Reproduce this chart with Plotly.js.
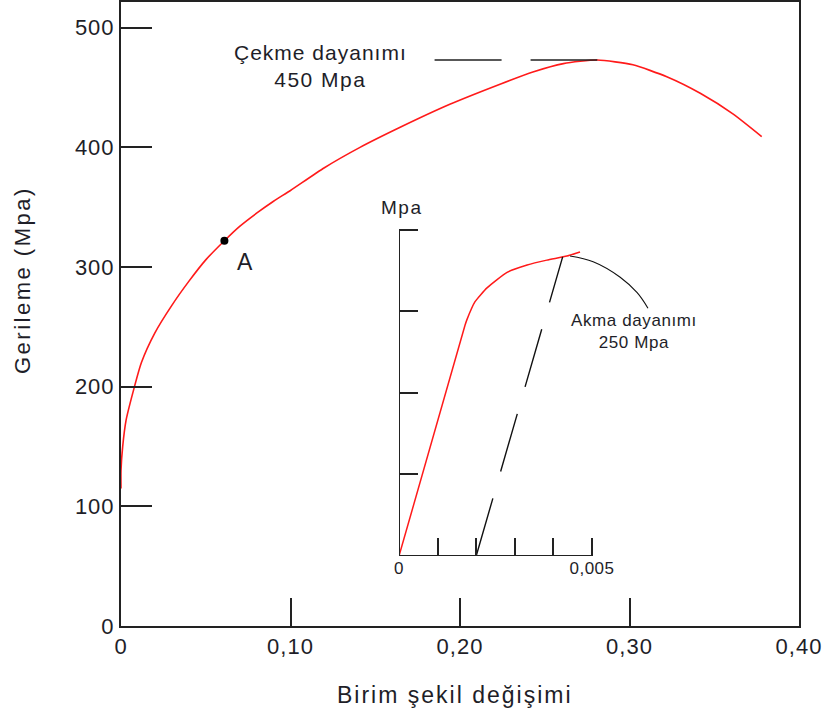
<!DOCTYPE html>
<html>
<head>
<meta charset="utf-8">
<script src="https://cdn.plot.ly/plotly-3.0.1.min.js"></script>
<style>html,body{margin:0;padding:0;background:#fff;}#chart{width:827px;height:724px;}</style>
</head>
<body>
<div id="chart"></div>
<script>
// ---- main curve (Birim şekil değişimi vs Gerileme, Mpa)
const strain = [0, 0, 0.001, 0.003, 0.007, 0.012, 0.02, 0.03, 0.04, 0.05, 0.061, 0.07, 0.08, 0.09, 0.10, 0.12, 0.141, 0.165, 0.194, 0.224, 0.243, 0.261, 0.281, 0.302, 0.322, 0.342, 0.361, 0.378];
const stress = [115, 130, 150, 172, 195, 220, 245, 268, 288, 306, 322, 334, 345, 355, 364, 383, 400, 417, 436, 453, 463, 470, 473, 469, 459, 445, 428, 409];
const pointA = {x: [0.061], y: [322], label: "A"};
const tensileLineX = [0.185, 0.281];
const tensileLineY = [473, 473];
const tensileLabel = ["Çekme dayanımı", "450 Mpa"];
const mainXTicks = [0, 0.1, 0.2, 0.3, 0.4];
const mainXTickText = ["0", "0,10", "0,20", "0,30", "0,40"];
const mainYTicks = [0, 100, 200, 300, 400, 500];
const mainYTickText = ["0", "100", "200", "300", "400", "500"];
const xTitle = "Birim şekil değişimi";
const yTitle = "Gerileme (Mpa)";

// ---- inset (yield region)
const insetStrain = [0, 0.00171, 0.00176, 0.00197, 0.00228, 0.0028, 0.00332, 0.00383, 0.00435, 0.00469];
const insetStress = [0, 283, 290, 312, 329, 348, 357, 363, 368, 373];
const offsetX = [0.002, 0.00424];
const offsetY = [0, 367];
const leaderX = [0.00443, 0.00503, 0.00573, 0.00617, 0.00645];
const leaderY = [368, 361, 342, 323, 304];
const insetXTicks = [0, 0.001, 0.002, 0.003, 0.004, 0.005];
const insetXTickText = ["0", "", "", "", "", "0,005"];
const insetYTicks = [0, 100, 200, 300, 400];
const yieldLabel = ["Akma dayanımı", "250 Mpa"];
const insetUnit = "Mpa";

const FONT = "Liberation Sans, Arial, sans-serif";
const TXT = "#1e1e28";
const AX = "#222";

const ls = (s, sp) => '<span style="letter-spacing:' + sp + 'px">' + s + '</span>';

const traces = [
  {x: strain, y: stress, type: "scatter", mode: "lines", line: {color: "#ff1a1a", width: 1.6, shape: "spline", smoothing: 0.6}, hoverinfo: "skip"},
  {x: tensileLineX, y: tensileLineY, type: "scatter", mode: "lines", line: {color: "#222", width: 1.5, dash: "67px,29px"}, hoverinfo: "skip"},
  {x: pointA.x, y: pointA.y, type: "scatter", mode: "markers", marker: {color: "#000", size: 8}, hoverinfo: "skip"},
  {x: insetStrain, y: insetStress, xaxis: "x2", yaxis: "y2", type: "scatter", mode: "lines", line: {color: "#ff1a1a", width: 1.5, shape: "spline", smoothing: 0.5}, hoverinfo: "skip"},
  {x: offsetX, y: offsetY, xaxis: "x2", yaxis: "y2", type: "scatter", mode: "lines", line: {color: "#111", width: 1.4, dash: "60px,28px"}, hoverinfo: "skip"},
  {x: leaderX, y: leaderY, xaxis: "x2", yaxis: "y2", type: "scatter", mode: "lines", line: {color: "#111", width: 1.1, shape: "spline"}, hoverinfo: "skip"}
];

const layout = {
  width: 827, height: 724,
  margin: {l: 121, r: 28, t: 2, b: 98},
  paper_bgcolor: "#fff", plot_bgcolor: "#fff",
  showlegend: false,
  font: {family: FONT, color: TXT, size: 21},
  xaxis: {
    range: [0, 0.40], domain: [0, 1],
    tickvals: mainXTicks, ticktext: mainXTickText.map(t => ls(t, 1)),
    ticks: "inside", ticklen: 28, tickwidth: 2, tickcolor: AX,
    showline: true, linecolor: AX, linewidth: 2, mirror: true,
    showgrid: false, zeroline: false,
    tickfont: {size: 22, family: FONT, color: TXT}
  },
  yaxis: {
    range: [0, 521.5], domain: [0, 1],
    tickvals: mainYTicks, ticktext: mainYTickText.map(t => ls(t, 1)),
    ticks: "inside", ticklen: 31, tickwidth: 2, tickcolor: AX,
    showline: true, linecolor: AX, linewidth: 2, mirror: true,
    showgrid: false, zeroline: false,
    tickfont: {size: 22, family: FONT, color: TXT}
  },
  xaxis2: {
    anchor: "y2", domain: [0.41003, 0.85398], range: [0, 0.0077979],
    tickvals: insetXTicks, ticktext: insetXTickText.map(t => ls(t, 0.5)),
    ticks: "inside", ticklen: 18, tickwidth: 2, tickcolor: AX,
    showline: false, showgrid: false, zeroline: false,
    tickfont: {size: 17, family: FONT, color: TXT}
  },
  yaxis2: {
    anchor: "x2", domain: [0.11218, 0.6412], range: [0, 405],
    tickvals: insetYTicks, showticklabels: false,
    ticks: "inside", ticklen: 19, tickwidth: 2, tickcolor: AX,
    showline: false, showgrid: false, zeroline: false
  },
  shapes: [
    {type: "line", xref: "x2", yref: "y2", x0: insetXTicks[0], x1: insetXTicks[insetXTicks.length - 1], y0: 0, y1: 0, line: {color: AX, width: 2}},
    {type: "line", xref: "x2", yref: "y2", x0: 0, x1: 0, y0: insetYTicks[0], y1: insetYTicks[insetYTicks.length - 1], line: {color: AX, width: 2}}
  ],
  annotations: [
    {xref: "paper", yref: "paper", x: 0.4926, y: -0.1106, text: ls(xTitle, 2), showarrow: false, font: {size: 23, family: FONT, color: TXT}, xanchor: "center", yanchor: "middle"},
    {xref: "paper", yref: "paper", x: -0.1445, y: 0.5545, text: ls(yTitle, 2.5), textangle: -90, showarrow: false, font: {size: 22, family: FONT, color: TXT}, xanchor: "center", yanchor: "middle"},
    {xref: "x", yref: "y", x: 0.1175, y: 468, text: ls(tensileLabel[0], 1) + "<br>" + ls(tensileLabel[1], 1.5), showarrow: false, font: {size: 21, family: FONT, color: TXT}, align: "center", xanchor: "center", yanchor: "middle"},
    {xref: "x", yref: "y", x: 0.0732, y: 304, text: pointA.label, showarrow: false, font: {size: 23, family: FONT, color: TXT}, xanchor: "center", yanchor: "middle"},
    {xref: "x2", yref: "y2", x: 0.00608, y: 275, text: ls(yieldLabel[0], 0.6) + "<br>" + ls(yieldLabel[1], 0.6), showarrow: false, font: {size: 17, family: FONT, color: TXT}, align: "center", xanchor: "center", yanchor: "middle"},
    {xref: "paper", yref: "paper", x: 0.413, y: 0.6699, text: ls(insetUnit, 1.5), showarrow: false, font: {size: 19, family: FONT, color: TXT}, xanchor: "center", yanchor: "middle"}
  ]
};

Plotly.newPlot("chart", traces, layout, {staticPlot: true, displayModeBar: false});
</script>
</body>
</html>
